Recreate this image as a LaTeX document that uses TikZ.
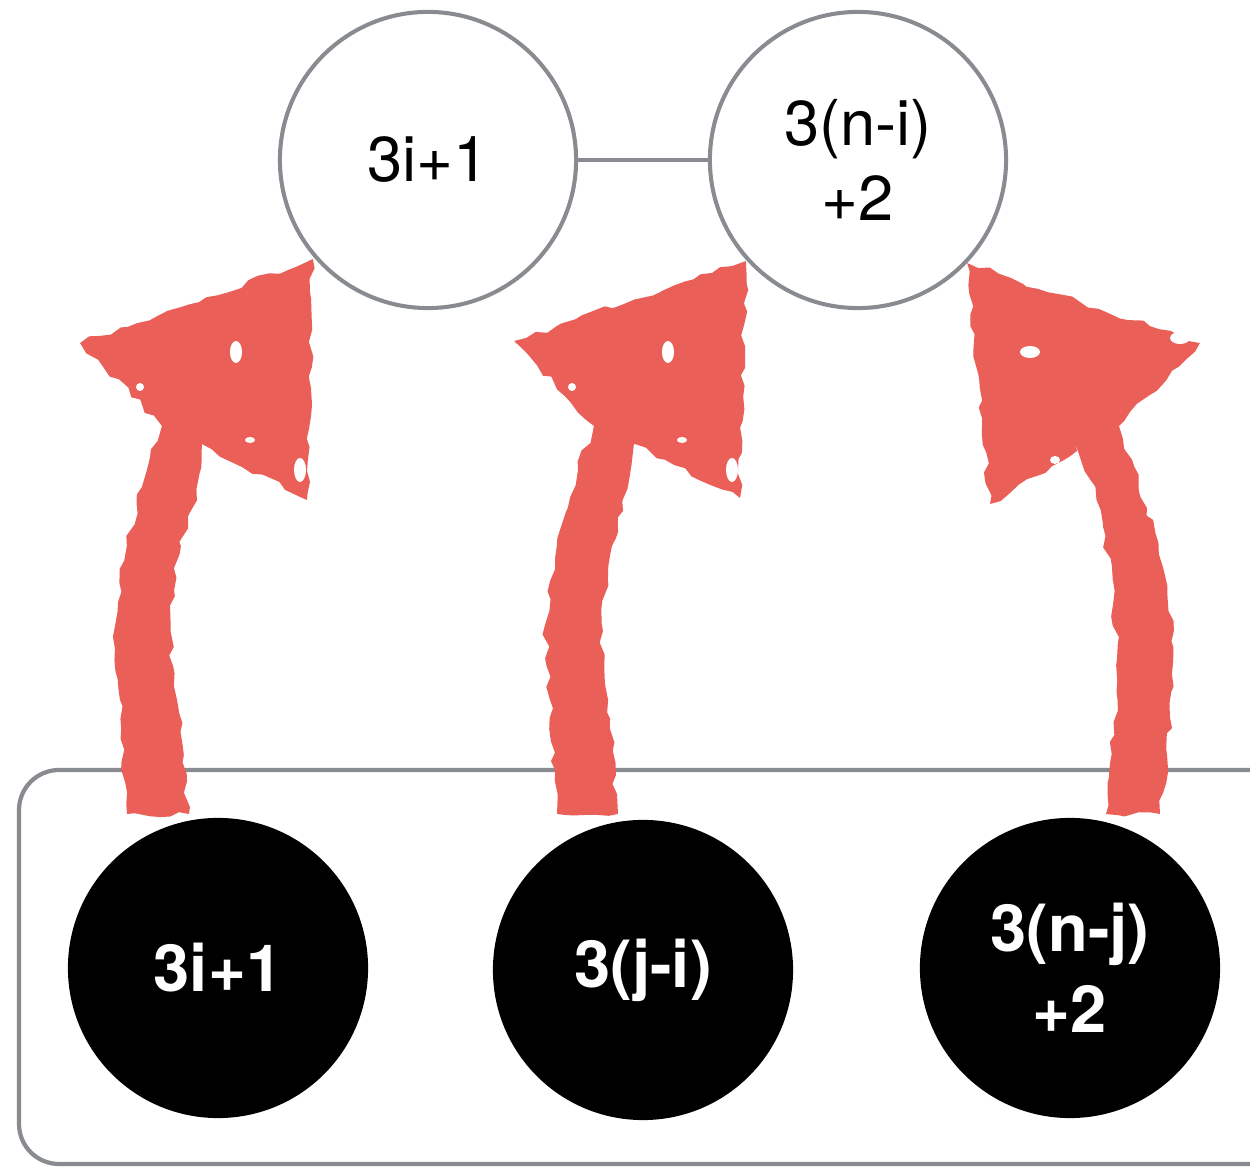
\documentclass[tikz,border=0pt]{standalone}
\usepackage{fontspec}
\setmainfont{TeX Gyre Heros}
\usetikzlibrary{decorations.pathmorphing}
\definecolor{edgegray}{RGB}{136,139,143}
\definecolor{chalkred}{RGB}{235,95,89}
\tikzset{
  topcirc/.style={circle, draw=edgegray, line width=1.15pt, fill=white, minimum size=2.96cm, inner sep=0pt, align=center, font=\fontsize{18}{21.5}\selectfont},
  botcirc/.style={circle, fill=black, minimum size=3.0cm, inner sep=0pt, align=center, text=white, font=\fontsize{18.5}{23}\selectfont\bfseries},
  linkline/.style={draw=edgegray, line width=1.15pt},
  chalk/.style={fill=chalkred, decorate, decoration={random steps, segment length=3pt, amplitude=0.9pt}},
  speck/.style={fill=white}
}
\begin{document}
\begin{tikzpicture}[x=0.01cm, y=-0.01cm]
\useasboundingbox (0,0) rectangle (1250,1167);
\fill[white] (0,0) rectangle (1250,1167);
\begin{scope}
\clip (0,0) rectangle (1250,1167);
\draw[edgegray, line width=1.2pt, rounded corners=0.4cm] (19,770) rectangle (1290,1164);
\end{scope}
\node[topcirc] (t1) at (428,160) {3i+1};
\node[topcirc] (t2) at (858,160) {3(n-i)\\+2};
\draw[linkline] (t1) -- (t2);
\node[botcirc] (b1) at (218,968) {3i+1};
\node[botcirc] (b2) at (643,970) {3(j-i)};
\node[botcirc] (b3) at (1070,968) {3(n-j)\\+2};
% arrow 1 (from b1 up towards t1)
\pgfmathsetseed{7}
\fill[chalk] (127,814) -- plot[smooth] coordinates {(127,814) (120,700) (116,623) (127,546) (147,470) (162,426)}
  -- (80,343) -- (313,259) -- (307,500) -- (200,443)
  -- plot[smooth] coordinates {(200,443) (196,489) (181,546) (171,623) (177,700) (189,814)} -- cycle;
% arrow 2 (from b2 up towards t2)
\fill[chalk] (557,814) -- plot[smooth] coordinates {(557,814) (550,700) (546,623) (557,546) (578,470) (594,426)}
  -- (514,341) -- (746,261) -- (740,498) -- (632,443)
  -- plot[smooth] coordinates {(632,443) (627,489) (612,546) (602,623) (608,700) (618,814)} -- cycle;
% arrow 3 (from b3 up towards t2)
\fill[chalk] (1160,814) -- plot[smooth] coordinates {(1160,814) (1167,757) (1173,661) (1167,585) (1147,508) (1119,426)}
  -- (1200,343) -- (967,263) -- (990,504) -- (1077,451)
  -- plot[smooth] coordinates {(1077,451) (1090,480) (1103,527) (1113,604) (1117,681) (1106,814)} -- cycle;
% chalk specks
\foreach \x/\y/\a/\b in {236/352/6/11, 300/470/6/12, 225/290/4/3, 140/387/4/4, 250/440/5/3,
  668/352/6/11, 732/470/6/12, 657/290/4/3, 572/387/4/4, 682/440/5/3,
  1030/352/10/6, 1180/338/10/6, 1055/460/5/4, 1110/300/3/5, 1150/450/4/3}
  \fill[speck] (\x,\y) ellipse [x radius=\a*0.01cm, y radius=\b*0.01cm];
\end{tikzpicture}
\end{document}
